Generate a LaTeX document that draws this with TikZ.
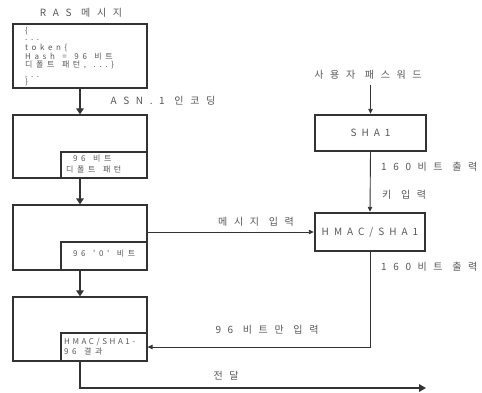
\documentclass[tikz,border=0pt]{standalone}
\usepackage{fontspec}
\setmainfont{Noto Sans CJK KR}
\newfontfamily\krlab[LetterSpace=66,WordSpace=1.1]{Noto Sans CJK KR}
\newfontfamily\krproc[LetterSpace=50]{Noto Sans CJK KR}
\newfontfamily\krsmall[LetterSpace=45,WordSpace=1.4]{Noto Sans CJK KR}
\newfontfamily\krtight[LetterSpace=32]{Noto Sans CJK KR}
\usetikzlibrary{arrows.meta}
\definecolor{linec}{HTML}{333333}
\definecolor{textc}{HTML}{585858}
\tikzset{
  outerbox/.style={draw=linec, line width=1.2pt, rectangle, inner sep=0, minimum width=134pt},
  innerbox/.style={draw=linec, line width=1.2pt, rectangle, inner sep=0, minimum width=86pt, minimum height=28pt},
  procbox/.style={draw=linec, line width=2.4pt, rectangle, inner sep=0, font=\krproc\fontsize{10}{11}\selectfont, text=textc},
  lab/.style={inner sep=0, font=\krlab\fontsize{10}{11}\selectfont, text=textc},
  small/.style={inner sep=0, anchor=west, text height=5pt, text depth=0.5pt, font=\krsmall\fontsize{8}{9}\selectfont, text=textc},
  thickarrow/.style={draw=linec, line width=2.8pt, -{Triangle[length=6pt,width=7.5pt]}},
  thinarrow/.style={draw=linec, line width=0.9pt, -{Triangle[length=5pt,width=4.5pt]}},
}
\begin{document}
\begin{tikzpicture}[x=1pt,y=-1pt]
\useasboundingbox (0,0) rectangle (482,392);
\fill[white] (0,0) rectangle (482,392);

% left column boxes
\node[outerbox, minimum height=64pt] (b1) at (80,56) {};
\node[outerbox, minimum height=63pt] (b2) at (80,146.5) {};
\node[outerbox, minimum height=65pt] (b3) at (80,237.5) {};
\node[outerbox, minimum height=64pt] (b4) at (80,329) {};
\node[innerbox, minimum height=26pt] (i2) at (104,165) {};
\node[innerbox] (i3) at (104,256) {};
\node[innerbox] (i4) at (104,347) {};

% title
\node[lab] (title) at (81,13) {RAS 메시지};

% box 1 contents
\node[small] (l1) at (25,31) {\{};
\node[small] (l2) at (25,38.5) {...};
\node[small] (l3) at (25,48) {token\{};
\node[small] (l4) at (25,57) {Hash = 96 비트};
\node[small] (l5) at (25,65.5) {디폴트 패턴, ...\}};
\node[small] (l6) at (25,75) {...};
\node[small] (l7) at (25,82) {\}};

% inner box texts
\node[small] (t2a) at (73,159) {96 비트};
\node[small] (t2b) at (66,170) {디폴트 패턴};
\node[small] (t3) at (73,254) {96 '0' 비트};
\node[small, font=\krtight\fontsize{8}{9}\selectfont] (t4a) at (64,342) {HMAC/SHA1-};
\node[small] (t4b) at (64,352.5) {96 결과};

% main arrows
\draw[thickarrow] (b1.south) -- (b2.north);
\draw[thickarrow] (b2.south) -- (b3.north);
\draw[thickarrow] (b3.south) -- (b4.north);
\node[lab] (asn) at (163,101) {ASN.1 인코딩};

% right side
\node[lab, inner sep=5pt] (pw) at (368,75) {사용자 패스워드};
\node[procbox, minimum width=111pt, minimum height=36pt] (sha) at (370.5,133) {SHA1};
\node[procbox, minimum width=110pt, minimum height=38pt] (hmac) at (370,232) {HMAC/SHA1};
\draw[thinarrow] (pw.south -| sha.north) -- (sha.north);
\draw[thinarrow] (sha.south) -- (hmac.north);
\node[lab, anchor=west] (o1) at (381,167) {160비트 출력};
\node[lab, anchor=west] (key) at (382,195) {키 입력};
\node[lab, anchor=west] (o2) at (381,267) {160비트 출력};

% message input
\draw[thinarrow] (hmac.west -| b3.east) -- (hmac.west);
\node[lab] (msg) at (256,222) {메시지 입력};

% 96 bits back
\draw[thinarrow] (hmac.south) |- (i4.east);
\node[lab] (only) at (267,330) {96 비트만 입력};

% output
\coordinate (end) at (426,388);
\draw[draw=linec, line width=2.6pt, -{Triangle[length=7pt,width=7.5pt]}] (b4.south) |- (end);
\node[lab] (send) at (226,376) {전달};
\end{tikzpicture}
\end{document}
